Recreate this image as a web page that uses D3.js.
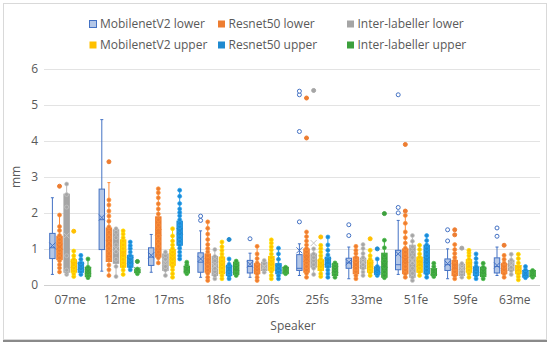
<!DOCTYPE html>
<meta charset="utf-8">
<head>
    <title>Speaker box plot</title>
    <script src="https://cdn.jsdelivr.net/npm/d3@7"></script>
    <style>
        body { margin: 0; background: #fff; }
        text { font-family: "Open Sans", "Liberation Sans", sans-serif; fill: #595959; }
    </style>
</head>
<body>
<script>
    // speakers on the x axis
    var speakers = ["07me", "12me", "17ms", "18fo", "20fs", "25fs", "33me", "51fe", "59fe", "63me"];
    var seriesNames = ["MobilenetV2 lower", "Resnet50 lower", "Inter-labeller lower",
                       "MobilenetV2 upper", "Resnet50 upper", "Inter-labeller upper"];
    var yTicks = [0, 1, 2, 3, 4, 5, 6];

    // box stats per speaker: [whisker low, q1, median, q3, whisker high, mean]
    var mobLowerStats = [[0.28,0.72,1.02,1.42,2.41,1.08],[0.37,0.97,1.80,2.65,4.58,1.86],[0.34,0.53,0.76,1.02,1.39,0.81],
        [0.20,0.34,0.62,0.88,1.49,0.71],[0.20,0.32,0.50,0.67,0.87,0.56],[0.25,0.39,0.45,0.83,1.13,0.95],
        [0.16,0.45,0.60,0.73,1.04,0.62],[0.28,0.41,0.55,0.95,1.78,0.85],[0.16,0.39,0.55,0.71,0.99,0.58],[0.25,0.32,0.50,0.74,1.04,0.53]];
    var resLowerStats = [[0.32,0.69,1.00,1.34,1.93,1.05],[0.22,0.64,1.10,1.57,2.83,1.15],[0.60,0.76,1.40,1.88,2.66,1.45],
        [0.11,0.34,0.60,0.85,1.74,0.65],[0.11,0.30,0.45,0.58,1.06,0.48],[0.20,0.34,0.70,0.99,1.46,0.72],
        [0.16,0.30,0.55,0.76,1.06,0.55],[0.20,0.30,0.60,0.99,1.92,0.68],[0.16,0.25,0.45,0.67,1.11,0.50],[0.20,0.30,0.45,0.58,0.81,0.47]];
    var interLowerStats = [[0.28,0.34,1.00,2.51,2.79,1.36],[0.22,0.59,0.95,1.52,1.55,0.99],[0.25,0.39,0.60,0.85,0.90,0.62],
        [0.16,0.25,0.50,0.78,0.97,0.52],[0.34,0.39,0.50,0.62,0.67,0.50],[0.28,0.48,0.65,0.85,0.99,1.15],
        [0.25,0.44,0.60,0.73,1.11,0.62],[0.11,0.20,0.60,1.09,1.36,0.65],[0.20,0.25,0.40,0.56,0.58,0.45],[0.28,0.39,0.55,0.67,0.84,0.55]];
    var mobUpperStats = [[0.22,0.34,0.50,0.69,0.93,0.55],[0.28,0.48,0.85,1.24,1.49,0.85],[0.20,0.53,0.75,0.97,1.55,0.78],
        [0.16,0.30,0.55,0.76,1.18,0.55],[0.16,0.39,0.60,0.78,1.24,0.62],[0.22,0.39,0.55,0.69,1.09,0.58],
        [0.25,0.34,0.50,0.67,0.95,0.53],[0.25,0.34,0.55,0.76,1.09,0.58],[0.20,0.34,0.50,0.69,0.95,0.53],[0.13,0.30,0.42,0.53,0.84,0.44]];
    var resUpperStats = [[0.28,0.34,0.48,0.62,0.81,0.50],[0.41,0.48,0.62,0.81,1.18,0.67],[0.71,1.09,1.40,1.76,2.62,1.48],
        [0.16,0.25,0.38,0.53,0.71,0.42],[0.16,0.30,0.42,0.58,1.01,0.46],[0.20,0.48,0.60,0.76,1.32,0.64],
        [0.25,0.28,0.36,0.48,0.71,0.42],[0.20,0.30,0.60,1.09,1.36,0.68],[0.16,0.25,0.38,0.48,0.85,0.42],[0.19,0.20,0.30,0.39,0.50,0.31]];
    var interUpperStats = [[0.19,0.22,0.35,0.48,0.71,0.38],[0.30,0.33,0.38,0.43,0.43,0.40],[0.30,0.32,0.42,0.51,0.62,0.43],
        [0.25,0.28,0.45,0.62,0.65,0.46],[0.30,0.30,0.40,0.48,0.48,0.40],[0.20,0.25,0.42,0.58,0.62,0.42],
        [0.19,0.20,0.50,0.87,1.23,0.55],[0.22,0.25,0.35,0.44,0.59,0.36],[0.16,0.22,0.35,0.48,0.59,0.37],[0.20,0.22,0.30,0.39,0.41,0.31]];

    // outliers per speaker
    var mobLowerOut = [[],[],[],[1.78,1.90],[1.27],[1.74,4.25,5.27,5.37],[1.36,1.66],[1.99,2.14,5.27],[1.21,1.52],[1.34,1.57]];
    var resLowerOut = [[2.73],[3.41],[],[],[],[4.07,5.18],[],[2.04,3.89],[1.38,1.52],[1.09]];
    var interLowerOut = [[],[],[],[],[],[5.39],[],[],[1.01],[]];
    var mobUpperOut = [[1.48],[],[],[],[],[1.32],[1.27],[],[],[]];
    var resUpperOut = [[],[],[],[1.25],[],[],[0.99],[],[],[]];
    var interUpperOut = [[],[0.64],[],[],[],[],[1.97],[],[],[]];

    // inner points per speaker (MobilenetV2 lower shows none)
    var resLowerPts = [[0.35,0.46,0.55,0.66,0.74,0.86,0.95,1.04,1.16,1.25,1.36,1.5,1.61,1.93],
        [0.25,0.41,0.54,0.7,0.86,1.0,1.14,1.31,1.45,1.6,1.76,1.9,2.04,2.21,2.35],
        [0.6,0.74,0.9,1.06,1.2,1.34,1.51,1.65,1.8,1.96,2.1,2.24,2.41,2.55,2.66],
        [0.11,0.2,0.31,0.4,0.5,0.61,0.7,0.8,0.91,1.0,1.11,1.25,1.4,1.56,1.74],
        [0.11,0.2,0.3,0.41,0.5,0.6,0.72,0.85,1.06],
        [0.2,0.31,0.4,0.5,0.61,0.7,0.8,0.91,1.0,1.1,1.21,1.33,1.46],
        [0.16,0.25,0.36,0.45,0.55,0.66,0.75,0.86,0.95,1.06],
        [0.2,0.3,0.41,0.5,0.6,0.71,0.8,0.9,1.01,1.15,1.3,1.46,1.7,1.92],
        [0.16,0.25,0.36,0.45,0.55,0.66,0.75,0.86,0.97,1.11],
        [0.2,0.3,0.41,0.5,0.6,0.7,0.81]];
    var interLowerPts = [[0.28,0.34,0.4,0.8,2.15,2.5,2.79],[0.22,0.5,0.7,0.91,1.1,1.3,1.45,1.55],[0.25,0.4,0.5,0.61,0.7,0.8,0.9],
        [0.16,0.25,0.36,0.45,0.55,0.66,0.78,0.97],[0.34,0.42,0.5,0.58,0.67],[0.28,0.45,0.55,0.66,0.75,0.85,0.99],
        [0.25,0.35,0.45,0.56,0.65,0.75,0.86,1.0,1.11],[0.11,0.2,0.31,0.45,0.6,0.75,0.9,1.05,1.2,1.36],
        [0.2,0.28,0.36,0.45,0.52,0.58],[0.28,0.38,0.48,0.58,0.68,0.84]];
    var mobUpperPts = [[0.22,0.3,0.38,0.46,0.55,0.62,0.7,0.8,0.93],[0.28,0.4,0.5,0.61,0.7,0.8,0.91,1.0,1.1,1.21,1.3,1.4,1.49],
        [0.2,0.3,0.41,0.5,0.6,0.7,0.81,0.9,1.0,1.1,1.21,1.35,1.55],[0.16,0.25,0.35,0.46,0.55,0.65,0.76,0.85,0.95,1.05,1.18],
        [0.16,0.25,0.36,0.45,0.55,0.66,0.75,0.85,0.96,1.05,1.15,1.24],[0.22,0.3,0.41,0.5,0.6,0.71,0.8,0.9,1.0,1.09],
        [0.25,0.33,0.42,0.5,0.6,0.7,0.8,0.95],[0.25,0.35,0.46,0.55,0.65,0.76,0.85,0.97,1.09],
        [0.2,0.3,0.4,0.5,0.61,0.7,0.8,0.88,0.95],[0.13,0.22,0.3,0.4,0.5,0.6,0.72,0.84]];
    var resUpperPts = [[0.28,0.36,0.44,0.52,0.6,0.7,0.81],[0.41,0.5,0.6,0.7,0.8,0.9,1.0,1.08,1.18],
        [0.71,0.8,0.9,1.01,1.1,1.2,1.31,1.4,1.5,1.61,1.7,1.8,1.91,2.0,2.1,2.25,2.45,2.62],
        [0.16,0.24,0.32,0.4,0.48,0.56,0.71],[0.16,0.25,0.35,0.45,0.55,0.7,0.85,1.01],
        [0.2,0.3,0.4,0.5,0.6,0.7,0.82,0.95,1.1,1.32],[0.25,0.3,0.36,0.42,0.5,0.71],
        [0.2,0.3,0.4,0.5,0.6,0.7,0.8,0.9,1.0,1.1,1.22,1.36],[0.16,0.25,0.33,0.42,0.5,0.6,0.72,0.85],[0.19,0.26,0.33,0.41,0.5]];
    var interUpperPts = [[0.19,0.25,0.32,0.4,0.48,0.71],[0.3,0.35,0.4,0.43],[0.3,0.36,0.42,0.48,0.55,0.62],
        [0.25,0.32,0.4,0.5,0.58,0.65],[0.3,0.35,0.4,0.45,0.48],[0.2,0.28,0.36,0.44,0.52,0.6],
        [0.19,0.25,0.35,0.5,0.65,0.8,1.02,1.23],[0.22,0.28,0.35,0.42,0.5,0.59],[0.16,0.24,0.32,0.4,0.48,0.59],[0.2,0.26,0.33,0.39]];

    var width = 550, height = 343;

    var series = [
        { name: seriesNames[0], stats: mobLowerStats,   out: mobLowerOut,   pts: [],            fill: "#b4c7e7", stroke: "#4472c4", hollow: true },
        { name: seriesNames[1], stats: resLowerStats,   out: resLowerOut,   pts: resLowerPts,   fill: "#ed7d31", stroke: "#ed7d31" },
        { name: seriesNames[2], stats: interLowerStats, out: interLowerOut, pts: interLowerPts, fill: "#a5a5a5", stroke: "#a5a5a5", meanCol: "#c4c4c4" },
        { name: seriesNames[3], stats: mobUpperStats,   out: mobUpperOut,   pts: mobUpperPts,   fill: "#ffc000", stroke: "#ffc000" },
        { name: seriesNames[4], stats: resUpperStats,   out: resUpperOut,   pts: resUpperPts,   fill: "#1f8ad0", stroke: "#1f8ad0" },
        { name: seriesNames[5], stats: interUpperStats, out: interUpperOut, pts: interUpperPts, fill: "#3da03d", stroke: "#3da03d" }
    ];

    var svg = d3.select("body").append("svg")
        .attr("width", width)
        .attr("height", height);

    // chart frame
    svg.append("rect")
        .attr("x", 3.5).attr("y", 3.5)
        .attr("width", 543).attr("height", 336)
        .attr("fill", "#fff")
        .attr("stroke", "#d9d9d9");
    svg.append("line")
        .attr("x1", 3).attr("x2", 547)
        .attr("y1", 341).attr("y2", 341)
        .attr("stroke", "#8a8a8a").attr("stroke-width", 2);

    var x = d3.scaleBand().domain(speakers).range([45.5, 539.5]);
    var xs = d3.scaleBand().domain(seriesNames).range([-21, 21]).paddingInner(0.1);
    var y = d3.scaleLinear().domain([0, 6]).range([284.5, 68.5]);

    // gridlines
    svg.append("g")
        .selectAll("line")
        .data(yTicks)
        .enter().append("line")
        .attr("x1", 44).attr("x2", 540)
        .attr("y1", function (d) { return Math.round(y(d)) + 0.5; })
        .attr("y2", function (d) { return Math.round(y(d)) + 0.5; })
        .attr("stroke", function (d) { return d === 0 ? "#d0d0d0" : "#e3e3e3"; })
        .attr("stroke-width", 1);

    // y axis labels
    var yAxis = d3.axisLeft(y).tickValues(yTicks).tickSize(0).tickPadding(0).tickFormat(d3.format("d"));
    svg.append("g")
        .attr("transform", "translate(38,0)")
        .call(yAxis)
        .call(function (g) { g.select(".domain").remove(); })
        .selectAll("text")
        .attr("font-size", 12)
        .attr("font-family", null)
        .attr("fill", "#595959");

    // x axis labels
    var xAxis = d3.axisBottom(x).tickSize(0).tickPadding(0);
    svg.append("g")
        .attr("transform", "translate(0,295)")
        .call(xAxis)
        .call(function (g) { g.select(".domain").remove(); })
        .selectAll("text")
        .attr("font-size", 12)
        .attr("font-family", null)
        .attr("fill", "#595959");

    svg.append("text")
        .attr("x", 293).attr("y", 330)
        .attr("text-anchor", "middle")
        .attr("font-size", 12)
        .text("Speaker");

    svg.append("text")
        .attr("transform", "translate(20,177) rotate(-90)")
        .attr("text-anchor", "middle")
        .attr("font-size", 12)
        .text("mm");

    // boxes
    series.forEach(function (s) {
        var g = svg.append("g");
        var bw = xs.bandwidth();
        speakers.forEach(function (sp, i) {
            var st = s.stats[i];
            var cx = x(sp) + x.bandwidth() / 2 + xs(s.name) + bw / 2;
            var lineCol = s.hollow ? s.stroke : d3.color(s.fill).brighter(0.3);

            // whiskers
            g.append("line")
                .attr("x1", cx).attr("x2", cx)
                .attr("y1", y(st[0])).attr("y2", y(st[1]))
                .attr("stroke", lineCol).attr("stroke-width", 1);
            g.append("line")
                .attr("x1", cx).attr("x2", cx)
                .attr("y1", y(st[3])).attr("y2", y(st[4]))
                .attr("stroke", lineCol).attr("stroke-width", 1);
            [st[0], st[4]].forEach(function (v) {
                g.append("line")
                    .attr("x1", cx - 1.5).attr("x2", cx + 1.5)
                    .attr("y1", y(v)).attr("y2", y(v))
                    .attr("stroke", lineCol).attr("stroke-width", 1);
            });

            // box
            g.append("rect")
                .attr("x", cx - bw / 2 + 0.5)
                .attr("y", y(st[3]))
                .attr("width", bw - 1)
                .attr("height", y(st[1]) - y(st[3]))
                .attr("fill", s.fill)
                .attr("stroke", s.stroke)
                .attr("stroke-width", 1);

            // median
            g.append("line")
                .attr("x1", cx - bw / 2 + 0.5).attr("x2", cx + bw / 2 - 0.5)
                .attr("y1", y(st[2])).attr("y2", y(st[2]))
                .attr("stroke", s.stroke).attr("stroke-width", 1);

            // inner points
            g.selectAll(null)
                .data(s.pts[i] || [])
                .enter().append("circle")
                .attr("cx", cx)
                .attr("cy", function (d) { return y(d); })
                .attr("r", 2)
                .attr("fill", s.fill)
                .attr("stroke", d3.color(s.fill).brighter(0.5))
                .attr("stroke-width", 0.7);

            // mean marker
            var m = y(st[5]), k = 3;
            g.append("path")
                .attr("d", "M" + (cx - k) + "," + (m - k) + "L" + (cx + k) + "," + (m + k) +
                           "M" + (cx - k) + "," + (m + k) + "L" + (cx + k) + "," + (m - k))
                .attr("stroke", s.meanCol || s.stroke)
                .attr("stroke-width", 1)
                .attr("fill", "none");

            // outliers
            g.selectAll(null)
                .data(s.out[i])
                .enter().append("circle")
                .attr("cx", cx)
                .attr("cy", function (d) { return y(d); })
                .attr("r", 2)
                .attr("fill", s.hollow ? "#fff" : s.fill)
                .attr("stroke", s.hollow ? s.stroke : s.fill)
                .attr("stroke-width", 1);
        });
    });

    // legend
    var legX = [89, 217.5, 346.5];
    var legY = [24, 45];
    var legend = svg.append("g");
    series.forEach(function (s, i) {
        var lx = legX[i % 3], ly = legY[Math.floor(i / 3)];
        legend.append("rect")
            .attr("x", lx + 0.5).attr("y", ly - 3.5)
            .attr("width", 7).attr("height", 7)
            .attr("fill", s.fill)
            .attr("stroke", s.hollow ? s.stroke : "none");
        legend.append("text")
            .attr("x", lx + 11).attr("y", ly + 4)
            .attr("font-size", 12)
            .text(s.name);
    });
</script>
</body>
</html>
